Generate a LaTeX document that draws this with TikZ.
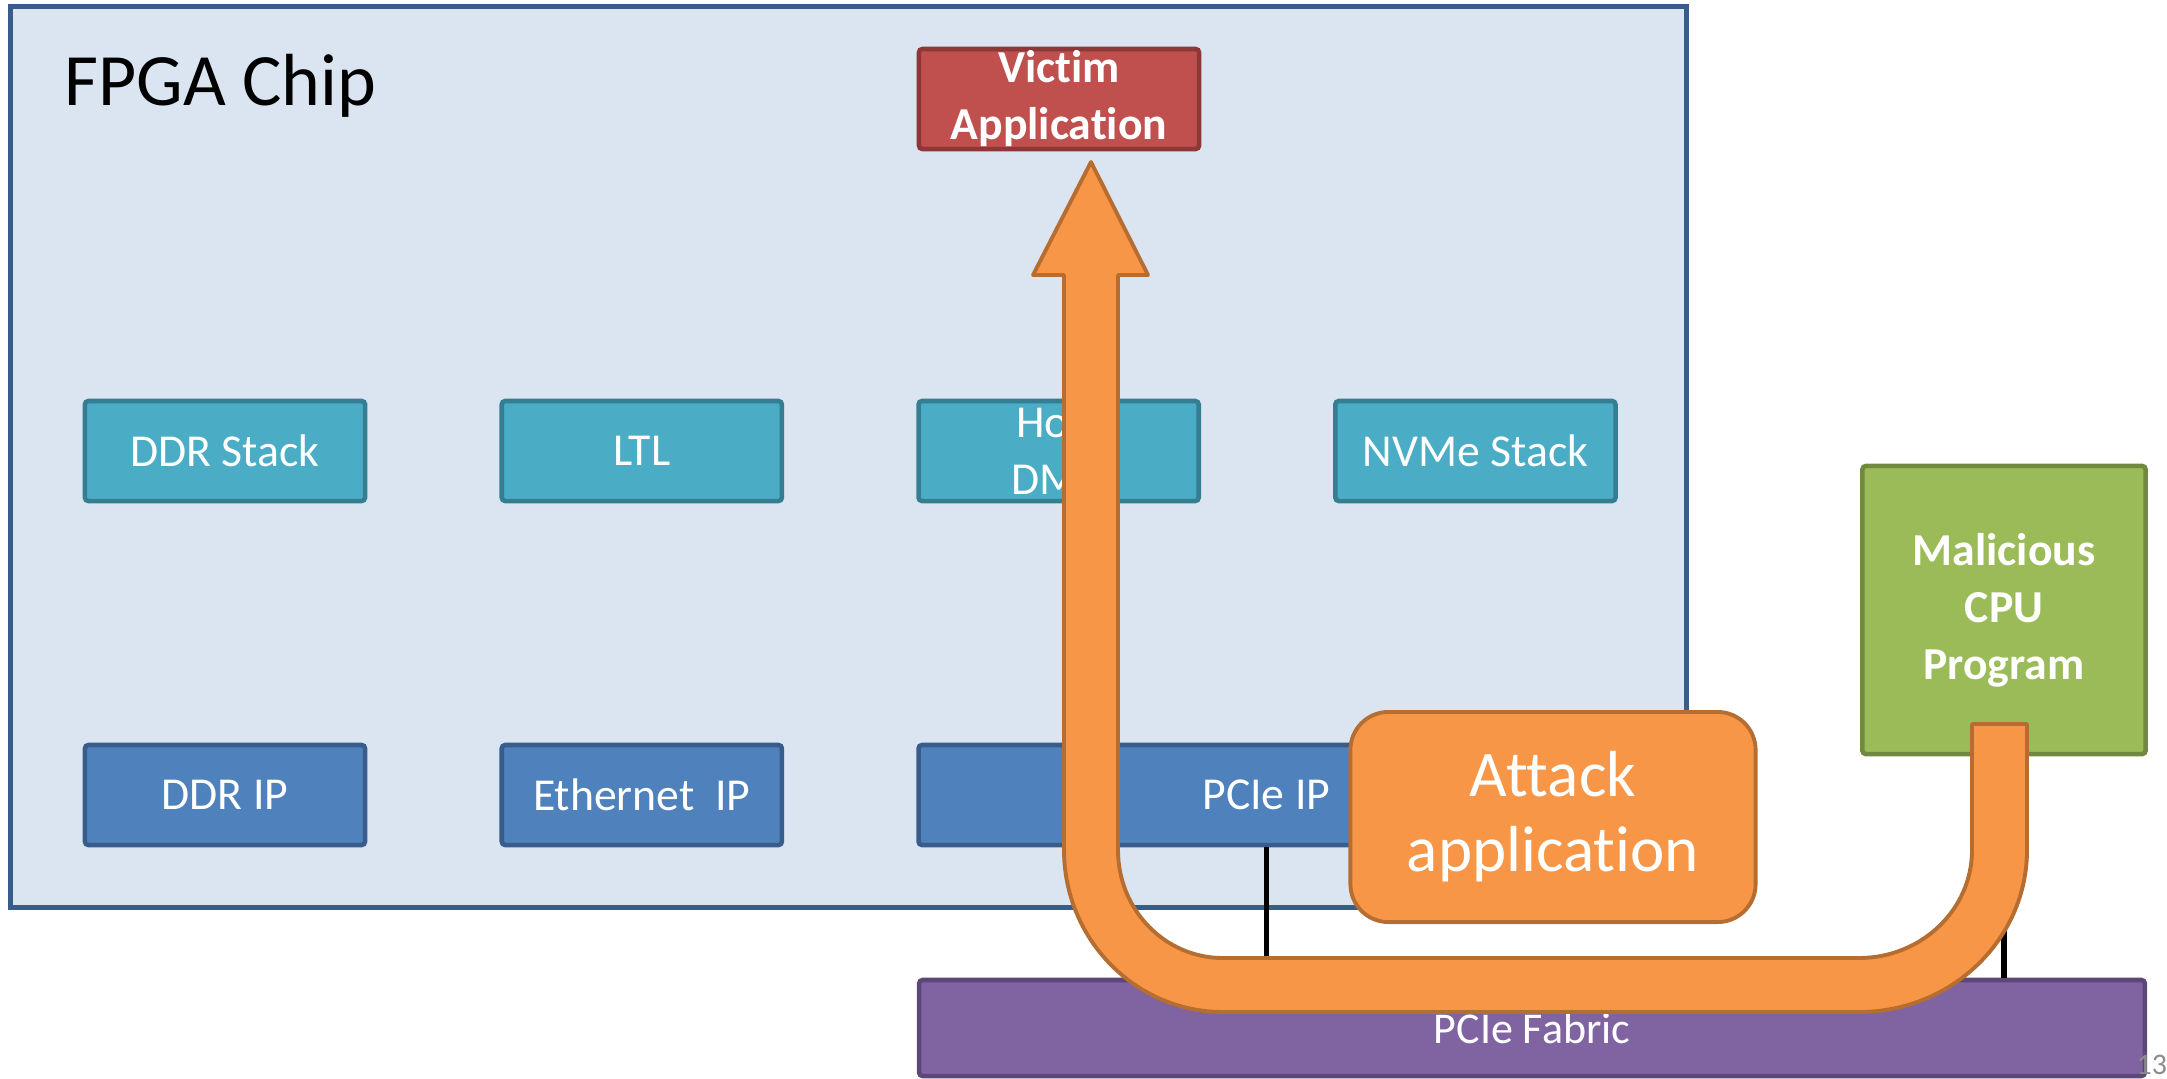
\documentclass[tikz,border=0pt]{standalone}
\usepackage{fontspec}
\setmainfont{Carlito}[Ligatures=NoCommon]
\usepackage{tikz}
\usetikzlibrary{calc}
\usetikzlibrary{positioning}

\definecolor{chipfill}{HTML}{DBE5F1}
\definecolor{chipline}{HTML}{385D8A}
\definecolor{victimfill}{HTML}{C0504D}
\definecolor{victimline}{HTML}{8C3836}
\definecolor{stackfill}{HTML}{4BACC6}
\definecolor{stackline}{HTML}{357D91}
\definecolor{ipfill}{HTML}{4F81BD}
\definecolor{ipline}{HTML}{385D8A}
\definecolor{malfill}{HTML}{9BBB59}
\definecolor{malline}{HTML}{71893F}
\definecolor{fabricfill}{HTML}{8064A2}
\definecolor{fabricline}{HTML}{5C4776}
\definecolor{attackfill}{HTML}{F79646}
\definecolor{attackline}{HTML}{B66D31}
\definecolor{pagegray}{HTML}{8C8C8C}

\tikzset{
	box/.style={rectangle, draw, line width=1.3pt, rounded corners=1pt, minimum width=2.8cm, minimum height=1.0cm, inner sep=0pt, align=center, text=white, font=\fontsize{13}{16.2}\selectfont},
	stackbox/.style={box, fill=stackfill, draw=stackline},
	ipbox/.style={box, fill=ipfill, draw=ipline},
	bus/.style={black, line width=1.5pt},
	uturn/.style={fill=attackfill, draw=attackline, line width=1.1pt, line join=round},
}

\begin{document}
\begin{tikzpicture}[x=0.01cm, y=-0.01cm]
	\path[use as bounding box, clip] (0,0) rectangle (2167,1078);

	\node[rectangle, draw=chipline, fill=chipfill, line width=1.4pt, minimum width=16.75cm, minimum height=9.0cm, inner sep=0pt] (chip) at (848.5,457) {};
	\node[anchor=base west, font=\fontsize{21}{25}\selectfont] (chiplabel) at (52,105) {FPGA Chip};

	\node[box, fill=victimfill, draw=victimline, font=\fontsize{13}{16.2}\selectfont\bfseries] (victim) at (1059,99) {Victim\\Application};

	\node[stackbox] (ddrstack) at (225,451) {DDR Stack};
	\node[stackbox, right=1.32cm of ddrstack] (ltl) {LTL};
	\node[stackbox, right=1.32cm of ltl] (hostdma) {Host\\DMA};
	\node[stackbox, right=1.32cm of hostdma] (nvme) {NVMe Stack};

	\node[ipbox] (ddrip) at (225,795) {DDR IP};
	\node[ipbox, right=1.32cm of ddrip] (ethip) {Ethernet~~IP};
	\node[ipbox, minimum width=6.95cm, right=1.32cm of ethip] (pcieip) {PCIe IP};

	\node[box, fill=malfill, draw=malline, minimum width=2.83cm, minimum height=2.88cm, font=\fontsize{13}{16.2}\selectfont\bfseries] (mal) at (2004,610) {Malicious\\CPU\\Program};
	\node[box, fill=fabricfill, draw=fabricline, minimum width=12.25cm, minimum height=0.96cm, font=\fontsize{12.5}{15}\selectfont] (fabric) at (1532,1028) {PCIe Fabric};

	\draw[bus] (pcieip.south) -- (pcieip.south |- fabric.north);
	\draw[bus] (mal.south) -- (mal.south |- fabric.north);

	\node[rectangle, rounded corners=0.38cm, fill=attackfill, draw=attackline, line width=1.1pt, minimum width=4.05cm, minimum height=2.1cm, align=center, text=white, font=\fontsize{18.5}{21.3}\selectfont] (attack) at (1553,817) {Attack\\application};

	% u-turn block arrow from the CPU program up to the victim
	\draw[uturn] (1972,724) -- (1972,850)
		.. controls (1972,910) and (1921,958) .. (1859,958)
		-- (1223,958)
		.. controls (1165,958) and (1118,910) .. (1118,850)
		-- (1118,275) -- (1148,275) -- (1091,162) -- (1033,275) -- (1064,275)
		-- (1064,850)
		.. controls (1064,939) and (1135,1012) .. (1223,1012)
		-- (1859,1012)
		.. controls (1952,1012) and (2027,939) .. (2027,850)
		-- (2027,724) -- cycle;

	\node[anchor=base west, text=pagegray, font=\fontsize{8.5}{10}\selectfont, inner sep=0pt] (pagenum) at (2136,1074) {13};
\end{tikzpicture}
\end{document}
